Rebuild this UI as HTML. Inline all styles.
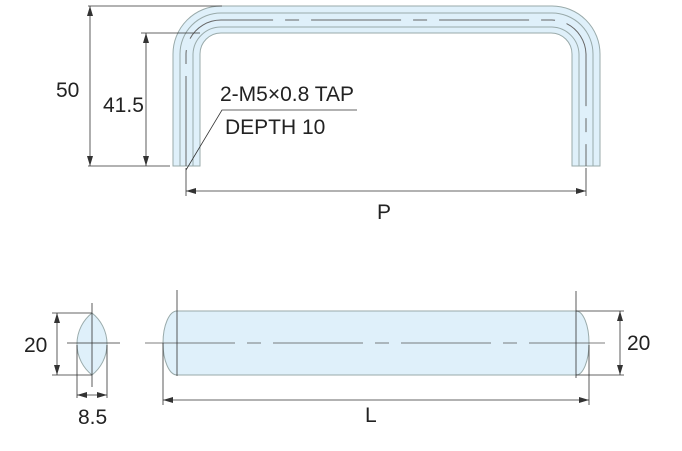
<!DOCTYPE html>
<html><head><style>body{margin:0;background:#fff}svg{display:block}text{font-family:"Liberation Sans",sans-serif;font-size:21px;fill:#222}</style></head><body>
<svg width="682" height="451" viewBox="0 0 682 451" xmlns="http://www.w3.org/2000/svg">
<defs><marker id="a" viewBox="0 0 10 6" refX="10" refY="3" markerWidth="10" markerHeight="6" orient="auto-start-reverse" markerUnits="userSpaceOnUse"><path d="M0,0L10,3L0,6z" fill="#333"/></marker></defs>
<g stroke="#9aa" stroke-width="1" fill="none">
<path d="M173,166 V54 A48,48 0 0 1 221,6 H552 A48,48 0 0 1 600,54 V166 H572 V54 A21,21 0 0 0 551,33 H221 A21,21 0 0 0 200,54 V166 Z" fill="#dff0fa"/>
<path d="M180,166 V54 A41,41 0 0 1 221,13 H552 A41,41 0 0 1 593,54 V166"/>
<path d="M193,166 V54 A28,28 0 0 1 221,27 H552 A28,28 0 0 1 579,54 V166"/>
<path d="M186,166 V54 A35,35 0 0 1 221,20 H552 A35,35 0 0 1 586,54 V166" stroke="#666" stroke-dasharray="90,12,14,12"/>
</g>
<g stroke="#333" stroke-width="0.8" fill="none">
<path d="M88,6 H222 M141,33 H200 M88,166 H170"/>
<path d="M90,6 V166" marker-start="url(#a)" marker-end="url(#a)"/>
<path d="M146,33 V166" marker-start="url(#a)" marker-end="url(#a)"/>
<path d="M186,170 L222,110 H357"/>
<path d="M186,168 V196 M586,168 V196"/>
<path d="M186,191 H586" marker-start="url(#a)" marker-end="url(#a)"/>
</g>
<text x="56" y="97">50</text><text x="103" y="112">41.5</text>
<text x="220" y="101">2-M5×0.8 TAP</text><text x="225" y="134">DEPTH 10</text>
<text x="377" y="219">P</text>
<path d="M177,311 H576 A13,32 0 0 1 576,375 H177 A14,32 0 0 1 177,311 Z" fill="#dff0fa" stroke="#9aa"/>
<g stroke="#333" stroke-width="0.8" fill="none">
<path d="M145,343 H605" stroke="#555" stroke-dasharray="90,12,14,12"/>
<path d="M177,290 V376 M576,291 V378"/>
<path d="M163,343 V405 M589,345 V405"/>
<path d="M163,400 H589" marker-start="url(#a)" marker-end="url(#a)"/>
<path d="M576,311 H624 M576,375 H624"/>
<path d="M620,311 V375" marker-start="url(#a)" marker-end="url(#a)"/>
</g>
<text x="365" y="422">L</text><text x="627" y="350">20</text>
<path d="M92,313 A39.5,39.5 0 0 1 92,375 A39.5,39.5 0 0 1 92,313 Z" fill="#dff0fa" stroke="#9aa"/>
<g stroke="#333" stroke-width="0.8" fill="none">
<path d="M92,303 V387 M67,343 H120"/>
<path d="M52,313 H92 M52,375 H92"/>
<path d="M57,313 V375" marker-start="url(#a)" marker-end="url(#a)"/>
<path d="M77,345 V398 M107,345 V398"/>
<path d="M77,395 H107" marker-start="url(#a)" marker-end="url(#a)"/>
</g>
<text x="24" y="352">20</text><text x="78" y="424">8.5</text>
</svg>
</body></html>
